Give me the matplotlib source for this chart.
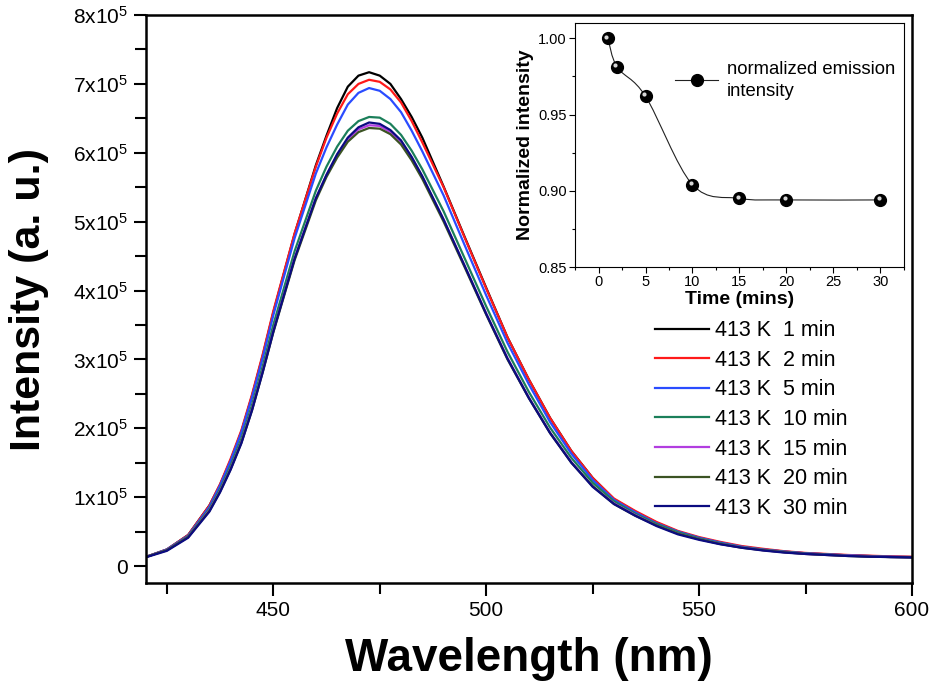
import matplotlib
matplotlib.use("Agg")
import matplotlib.pyplot as plt
from matplotlib.path import Path
from matplotlib.patches import PathPatch
from matplotlib.lines import Line2D
from matplotlib.ticker import MultipleLocator, FuncFormatter
from matplotlib.transforms import offset_copy

plt.rcParams.update({
    'font.family': ['Liberation Sans', 'DejaVu Sans'],
    'mathtext.fontset': 'custom',
    'mathtext.rm': 'Liberation Sans',
    'mathtext.default': 'regular',
})

# emission spectra, intensity in units of 1e3 counts
wavelength = [420, 425, 430, 435, 437.5, 440, 442.5, 445, 447.5, 450, 455, 460, 462.5,
              465, 467.5, 470, 472.5, 475, 477.5, 480, 482.5, 485, 490, 495, 500, 505,
              510, 515, 520, 525, 530, 535, 540, 545, 550, 555, 560, 565, 570, 575,
              580, 585, 590, 595, 600]

int_1min = [13, 24, 45, 88, 118, 154, 195, 247, 305, 368, 482, 582, 625,
            665, 696, 712, 717, 712, 700, 678, 652, 622, 551, 477, 404, 332,
            271, 215, 167, 128, 97, 79, 63, 50, 41, 34, 28, 24, 21, 18.5,
            17, 15.5, 14.5, 13.5, 13]
int_2min = [13, 24, 45, 88, 119, 156, 197, 249, 307, 370, 483, 580, 622,
            657, 685, 700, 706, 703, 692, 673, 646, 615, 550, 476, 403, 332,
            271, 215, 167, 128, 98, 80, 64, 51, 42, 35, 29, 25, 21.5, 19,
            17.5, 16, 15, 14, 13.5]
int_5min = [13, 24, 44, 86, 117, 153, 194, 245, 302, 364, 476, 570, 608,
            641, 670, 687, 694, 690, 678, 659, 632, 602, 538, 465, 393, 324,
            264, 209, 163, 125, 96, 78, 62, 50, 41, 34, 28, 24, 21, 18.5,
            17, 15.5, 14.5, 13.5, 13]
int_10min = [13, 23, 43, 83, 112, 146, 185, 234, 290, 350, 457, 545, 580,
             609, 632, 646, 652, 651, 642, 626, 603, 576, 515, 446, 377, 311,
             253, 201, 157, 121, 94, 76, 61, 49, 40, 33, 27.5, 23.5, 20.5, 18,
             16.5, 15, 14, 13, 12.5]
int_15min = [13, 23, 42, 81, 109, 142, 180, 228, 283, 341, 447, 534, 568,
             597, 620, 634, 640, 639, 630, 616, 593, 565, 503, 435, 367, 302,
             245, 194, 151, 116, 91, 74, 59, 47, 39, 32, 27, 23, 20, 17.5,
             16, 15, 14, 13, 12.5]
int_20min = [13, 23, 42, 80, 108, 141, 179, 226, 281, 339, 444, 531, 565,
             593, 616, 630, 636, 635, 627, 612, 589, 562, 500, 433, 365, 300,
             244, 193, 150, 116, 90, 73, 59, 47, 39, 32, 26.5, 23, 20, 17.5,
             16, 14.5, 13.5, 13, 12.5]
int_30min = [12.5, 22, 41, 79, 107, 140, 178, 226, 281, 340, 446, 534, 568,
             598, 622, 637, 644, 642, 633, 618, 594, 566, 503, 435, 366, 301,
             244, 193, 150, 115, 90, 73, 58, 46, 38, 31.5, 26.5, 22.5, 19.5, 17.5,
             16, 14.5, 13.5, 13, 12.5]

series_labels = ['413 K  1 min', '413 K  2 min', '413 K  5 min', '413 K  10 min',
                 '413 K  15 min', '413 K  20 min', '413 K  30 min']
series_colors = ['#000000', '#ff1a1a', '#2a4cff', '#1b7f5a', '#b23ee0', '#3b5323', '#0b0b80']

# inset: normalized emission intensity vs time
time_min = [1, 2, 5, 10, 15, 20, 30]
norm_int = [1.000, 0.981, 0.962, 0.904, 0.895, 0.894, 0.894]


def smooth_path(xs, ys):
    """Catmull-Rom style bezier path through the points (like Origin's spline line)."""
    pts = list(zip(xs, ys))
    verts = [pts[0]]
    codes = [Path.MOVETO]
    n = len(pts)
    for i in range(n - 1):
        p0 = pts[max(i - 1, 0)]
        p1 = pts[i]
        p2 = pts[i + 1]
        p3 = pts[min(i + 2, n - 1)]
        c1 = (p1[0] + (p2[0] - p0[0]) / 6, p1[1] + (p2[1] - p0[1]) / 6)
        c2 = (p2[0] - (p3[0] - p1[0]) / 6, p2[1] - (p3[1] - p1[1]) / 6)
        verts += [c1, c2, p2]
        codes += [Path.CURVE4] * 3
    return Path(verts, codes)


fig = plt.figure(figsize=(9.33, 6.93), dpi=100)
ax = fig.add_axes([0.156, 0.1587, 0.8215, 0.8196])

all_series = [int_1min, int_2min, int_5min, int_10min, int_15min, int_20min, int_30min]
for vals, lab, col in zip(all_series, series_labels, series_colors):
    ax.plot(wavelength, [v * 1e3 for v in vals], color=col, lw=1.6, label=lab)

ax.set_xlim(420, 600)
ax.set_ylim(-24700, 800000)
ax.xaxis.set_major_locator(MultipleLocator(50))
ax.xaxis.set_minor_locator(MultipleLocator(25))
ax.yaxis.set_major_locator(MultipleLocator(1e5))
ax.yaxis.set_minor_locator(MultipleLocator(5e4))
ax.yaxis.set_major_formatter(FuncFormatter(
    lambda v, pos: '0' if abs(v) < 1 else f'{int(round(v / 1e5))}x10$^{{5}}$'))
ax.tick_params(which='both', direction='out', width=1.5, labelsize=15, top=False, right=False)
ax.tick_params(which='major', length=9, pad=4)
ax.tick_params(which='minor', length=8)
for sp in ax.spines.values():
    sp.set_linewidth(1.8)

ax.set_xlabel('Wavelength (nm)', fontsize=33, fontweight='bold', labelpad=12)
ax.set_ylabel('Intensity (a. u.)', fontsize=31, fontweight='bold', labelpad=17)

ax.legend(loc='upper left', bbox_to_anchor=(0.702, 0.538), bbox_transform=fig.transFigure,
          frameon=False, fontsize=15.5, handlelength=2.5, handletextpad=0.3,
          labelspacing=0.4, borderpad=0, borderaxespad=0)

# inset
ax_in = fig.add_axes([0.6163, 0.6147, 0.3526, 0.352])
ax_in.add_patch(PathPatch(smooth_path(time_min, norm_int), fill=False, color='#222222', lw=0.8))
ax_in.plot(time_min, norm_int, linestyle='none', marker='o', ms=8.5, color='black', zorder=3)
# little highlight to mimic the shaded spheres
hl = offset_copy(ax_in.transData, fig=fig, x=-1.3, y=1.3, units='points')
ax_in.plot(time_min, norm_int, linestyle='none', marker='o', ms=3, color='#d8d8d8',
           markeredgewidth=0, transform=hl, zorder=4)

ax_in.set_xlim(-2.5, 32.5)
ax_in.set_ylim(0.85, 1.01)
ax_in.xaxis.set_major_locator(MultipleLocator(5))
ax_in.xaxis.set_minor_locator(MultipleLocator(2.5))
ax_in.yaxis.set_major_locator(MultipleLocator(0.05))
ax_in.yaxis.set_minor_locator(MultipleLocator(0.025))
ax_in.yaxis.set_major_formatter(FuncFormatter(lambda v, pos: f'{v:.2f}'))
ax_in.tick_params(which='both', direction='out', width=0.8, labelsize=10.5, top=False, right=False)
ax_in.tick_params(which='major', length=4, pad=2)
ax_in.tick_params(which='minor', length=2.5)
for sp in ax_in.spines.values():
    sp.set_linewidth(0.8)
ax_in.set_xlabel('Time (mins)', fontsize=14, fontweight='bold', labelpad=1)
ax_in.set_ylabel('Normalized intensity', fontsize=14, fontweight='bold', labelpad=3)

proxy = Line2D([], [], color='#222222', lw=0.8, marker='o', ms=8.5,
               markerfacecolor='black', markeredgecolor='black')
leg = ax_in.legend([proxy], ['normalized emission\nintensity'], loc='upper left',
                   bbox_to_anchor=(0.724, 0.912), bbox_transform=fig.transFigure,
                   frameon=False, fontsize=13.3, handlelength=2.3, handletextpad=0.5,
                   borderpad=0, borderaxespad=0)
for t in leg.get_texts():
    t.set_linespacing(1.35)

fig.savefig('out.png', dpi=100)
